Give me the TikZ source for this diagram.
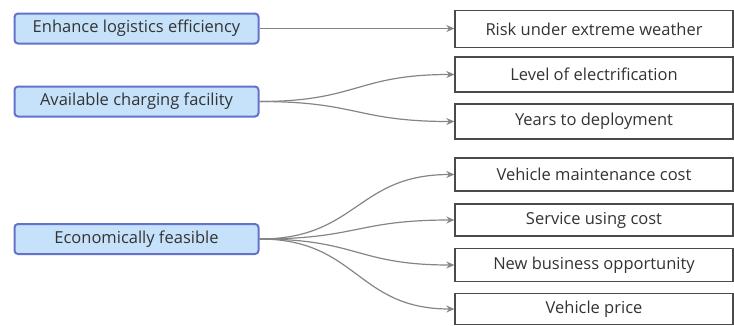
\documentclass[tikz,border=0pt]{standalone}
\usepackage{fontspec}
\setmainfont{Open Sans}
\usetikzlibrary{arrows.meta}
\definecolor{goalfill}{HTML}{C6E2FA}
\definecolor{goaledge}{HTML}{6472CC}
\definecolor{txt}{HTML}{333333}
\definecolor{linkgray}{HTML}{858585}
\definecolor{boxedge}{HTML}{4A4A4A}
\begin{document}
\begin{tikzpicture}[x=1pt,y=-1pt,
  goal/.style={draw=goaledge, line width=2pt, fill=goalfill, rounded corners=3.5pt,
    minimum width=244pt, minimum height=30pt, inner sep=0pt, text=txt,
    font=\fontsize{16.5}{19}\selectfont, anchor=center},
  factor/.style={draw=boxedge, line width=1.3pt, fill=white,
    minimum width=278pt, inner sep=0pt, text=txt,
    font=\fontsize{16.5}{19}\selectfont, anchor=center},
  link/.style={draw=linkgray, line width=1.2pt, -{Stealth[length=8pt,width=7pt]}}]
\useasboundingbox (0,0) rectangle (734,325);

% goals on the left
\node[goal] (g1) at (136.5,28.5) {Enhance logistics efficiency};
\node[goal] (g2) at (136.5,101.5) {Available charging facility};
\node[goal] (g3) at (136.5,239) {Economically feasible};

% factors on the right
\node[factor, minimum height=37pt] (f1) at (594,29) {Risk under extreme weather};
\node[factor, minimum height=35pt] (f2) at (594,74.5) {Level of electrification};
\node[factor, minimum height=35pt] (f3) at (594,121.5) {Years to deployment};
\node[factor, minimum height=33pt] (f4) at (594,174.5) {Vehicle maintenance cost};
\node[factor, minimum height=32pt] (f5) at (594,220) {Service using cost};
\node[factor, minimum height=33pt] (f6) at (594,265) {New business opportunity};
\node[factor, minimum height=31pt] (f7) at (594,309) {Vehicle price};

% connectors
\draw[link] (g1.east) -- (f1.west |- g1.east);
\foreach \t in {f2,f3}{
  \draw[link] (g2.east) .. controls ([xshift=98pt]g2.east) and ([xshift=-98pt]\t.west) .. (\t.west);
}
\foreach \t in {f4,f5,f6,f7}{
  \draw[link] (g3.east) .. controls ([xshift=98pt]g3.east) and ([xshift=-98pt]\t.west) .. (\t.west);
}
\end{tikzpicture}
\end{document}
